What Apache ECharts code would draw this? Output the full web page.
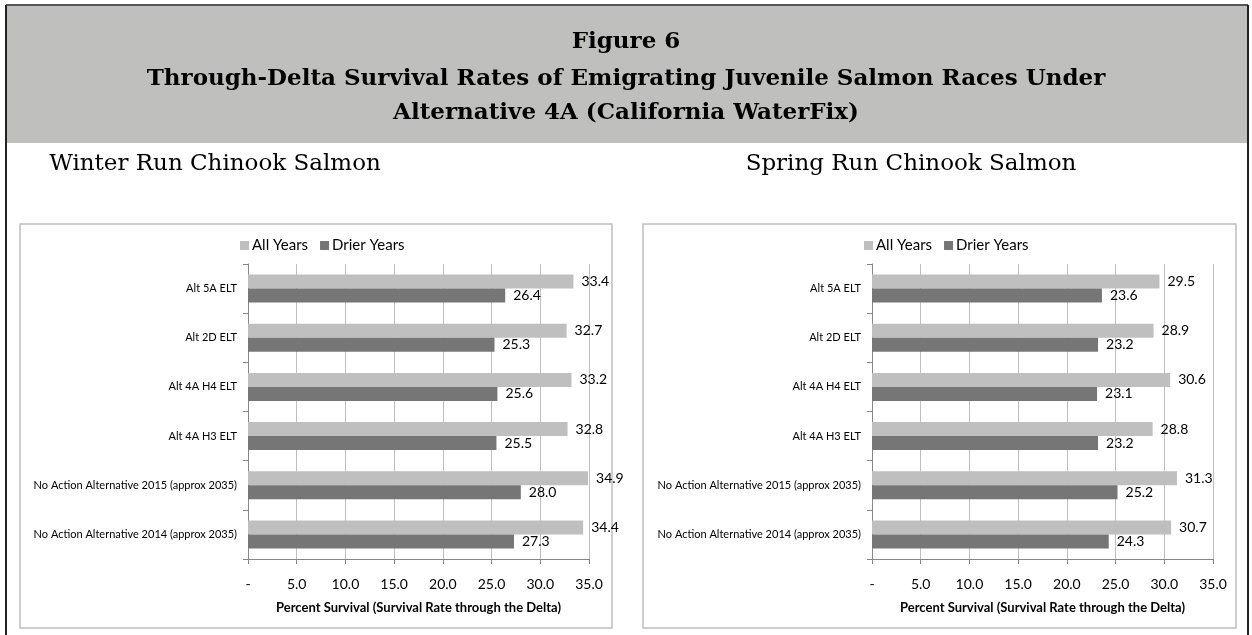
<!DOCTYPE html>
<html>
<head>
<meta charset="utf-8">
<script src="https://cdn.jsdelivr.net/npm/echarts@6/dist/echarts.min.js"></script>
<style>
  html, body { margin: 0; padding: 0; background: #fff; }
  #myChart { width: 1252px; height: 635px; }
</style>
</head>
<body>
<div id="myChart"></div>
<script>
// categories, top to bottom
var categories = [
  'Alt 5A ELT',
  'Alt 2D ELT',
  'Alt 4A H4 ELT',
  'Alt 4A H3 ELT',
  'No Action Alternative 2015 (approx 2035)',
  'No Action Alternative 2014 (approx 2035)'
];
var winterAll = [33.4, 32.7, 33.2, 32.8, 34.9, 34.4];
var winterDrier = [26.4, 25.3, 25.6, 25.5, 28.0, 27.3];
var springAll = [29.5, 28.9, 30.6, 28.8, 31.3, 30.7];
var springDrier = [23.6, 23.2, 23.1, 23.2, 25.2, 24.3];
var seriesNames = ['All Years', 'Drier Years'];
var xTicks = { min: 0, max: 35, interval: 5 };

var labelFont = 'Lato, Calibri, sans-serif';
var gridColor = '#bfbfbf';
var axisColor = '#868686';

function xAxisFor(idx) {
  return {
    type: 'value',
    gridIndex: idx,
    min: xTicks.min,
    max: xTicks.max,
    interval: xTicks.interval,
    name: 'Percent Survival (Survival Rate through the Delta)',
    nameLocation: 'middle',
    nameGap: 42,
    nameTextStyle: { fontFamily: labelFont, fontSize: 13, fontWeight: 'bold', color: '#000' },
    axisLine: { show: true, lineStyle: { color: axisColor } },
    axisTick: { show: true, length: 5, lineStyle: { color: axisColor } },
    axisLabel: {
      margin: 18,
      fontFamily: labelFont,
      fontSize: 14,
      color: '#000',
      formatter: function (v) { return v === 0 ? '-' : v.toFixed(1); }
    },
    splitLine: { show: true, lineStyle: { color: gridColor, width: 1 } }
  };
}

function yAxisFor(idx) {
  return {
    type: 'category',
    gridIndex: idx,
    inverse: true,
    data: categories,
    axisLine: { show: true, lineStyle: { color: axisColor } },
    axisTick: { show: true, length: 5, lineStyle: { color: axisColor } },
    axisLabel: { margin: 11, fontFamily: labelFont, fontSize: 11, color: '#000' },
    splitLine: { show: false }
  };
}

function barSeries(name, idx, data, color) {
  return {
    name: name,
    type: 'bar',
    xAxisIndex: idx,
    yAxisIndex: idx,
    data: data,
    barWidth: 14,
    barGap: '0%',
    itemStyle: { color: color },
    label: {
      show: true,
      position: 'right',
      distance: 8,
      fontFamily: labelFont,
      fontSize: 14,
      color: '#000',
      formatter: function (p) { return p.value.toFixed(1); }
    }
  };
}

var myChart = echarts.init(document.getElementById('myChart'), null, { renderer: 'canvas' });

var titleStyle = { fontFamily: 'DejaVu Serif', fontWeight: 'bold', fontSize: 23, fill: '#000', align: 'center', verticalAlign: 'middle' };
var subStyle = { fontFamily: 'DejaVu Serif', fontSize: 23, fill: '#000', align: 'center', verticalAlign: 'middle' };

var option = {
  backgroundColor: '#fff',
  animation: false,
  graphic: [
    // header band
    { type: 'rect', shape: { x: 7, y: 6, width: 1240, height: 137 }, style: { fill: '#bfbfbd' }, z: 0 },
    // outer frame
    { type: 'line', shape: { x1: 6, y1: 5, x2: 1248, y2: 5 }, style: { stroke: '#555', lineWidth: 2 }, z: 1 },
    { type: 'line', shape: { x1: 6, y1: 5, x2: 6, y2: 635 }, style: { stroke: '#222', lineWidth: 2 }, z: 1 },
    { type: 'line', shape: { x1: 1248, y1: 5, x2: 1248, y2: 635 }, style: { stroke: '#222', lineWidth: 2 }, z: 1 },
    // header text
    { type: 'text', x: 626, y: 42, style: Object.assign({ text: 'Figure 6' }, titleStyle), z: 2 },
    { type: 'text', x: 626, y: 79, style: Object.assign({ text: 'Through-Delta Survival Rates of Emigrating Juvenile Salmon Races Under' }, titleStyle), z: 2 },
    { type: 'text', x: 626, y: 113, style: Object.assign({ text: 'Alternative 4A (California WaterFix)' }, titleStyle), z: 2 },
    // panel subtitles
    { type: 'text', x: 215, y: 164, style: Object.assign({ text: 'Winter Run Chinook Salmon' }, subStyle), z: 2 },
    { type: 'text', x: 911, y: 164, style: Object.assign({ text: 'Spring Run Chinook Salmon' }, subStyle), z: 2 },
    // chart boxes
    { type: 'rect', shape: { x: 20, y: 224, width: 592, height: 404 }, style: { fill: '#fff', stroke: '#bfbfbf', lineWidth: 1.5 }, z: -1 },
    { type: 'rect', shape: { x: 643, y: 224, width: 593, height: 404 }, style: { fill: '#fff', stroke: '#bfbfbf', lineWidth: 1.5 }, z: -1 }
  ],
  legend: [
    {
      data: seriesNames,
      left: 235, top: 233,
      icon: 'rect', itemWidth: 9, itemHeight: 9, itemGap: 12,
      textStyle: { fontFamily: labelFont, fontSize: 15, color: '#000', padding: [0, 0, 0, -2] },
      selectedMode: false
    },
    {
      data: seriesNames,
      left: 859, top: 233,
      icon: 'rect', itemWidth: 9, itemHeight: 9, itemGap: 12,
      textStyle: { fontFamily: labelFont, fontSize: 15, color: '#000', padding: [0, 0, 0, -2] },
      selectedMode: false
    }
  ],
  grid: [
    { left: 248, width: 341, top: 264, height: 295 },
    { left: 872, width: 341, top: 264, height: 295 }
  ],
  xAxis: [xAxisFor(0), xAxisFor(1)],
  yAxis: [yAxisFor(0), yAxisFor(1)],
  series: [
    barSeries(seriesNames[0], 0, winterAll, '#bfbfbf'),
    barSeries(seriesNames[1], 0, winterDrier, '#767676'),
    barSeries(seriesNames[0], 1, springAll, '#bfbfbf'),
    barSeries(seriesNames[1], 1, springDrier, '#767676')
  ]
};

option && myChart.setOption(option);
</script>
</body>
</html>
